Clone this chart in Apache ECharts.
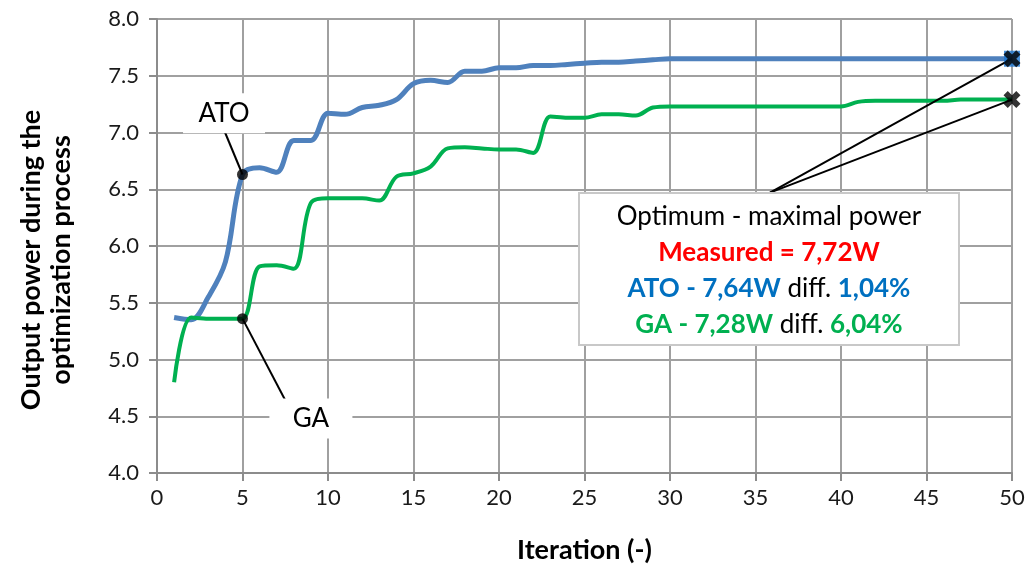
<!DOCTYPE html>
<html>
<head>
<meta charset="utf-8">
<script src="https://cdn.jsdelivr.net/npm/echarts@6/dist/echarts.min.js"></script>
<style>
html,body{margin:0;padding:0;background:#fff;}
#chart{width:1031px;height:570px;}
</style>
</head>
<body>
<div id="chart"></div>
<script>
// ---- data ----
const iterations = [1,2,3,4,5,6,7,8,9,10,11,12,13,14,15,16,17,18,19,20,21,22,23,24,25,26,27,28,29,30,31,32,33,34,35,36,37,38,39,40,41,42,43,44,45,46,47,48,49,50];
const atoPower = [5.37,5.35,5.55,5.86,6.63,6.69,6.65,6.93,6.93,7.17,7.16,7.22,7.24,7.29,7.43,7.46,7.44,7.54,7.54,7.57,7.57,7.59,7.59,7.60,7.61,7.62,7.62,7.63,7.64,7.65,7.65,7.65,7.65,7.65,7.65,7.65,7.65,7.65,7.65,7.65,7.65,7.65,7.65,7.65,7.65,7.65,7.65,7.65,7.65,7.65];
const gaPower = [4.80,5.37,5.36,5.36,5.36,5.82,5.83,5.80,6.38,6.42,6.42,6.42,6.40,6.61,6.64,6.70,6.86,6.87,6.86,6.85,6.85,6.82,7.14,7.13,7.13,7.16,7.16,7.15,7.22,7.23,7.23,7.23,7.23,7.23,7.23,7.23,7.23,7.23,7.23,7.23,7.27,7.28,7.28,7.28,7.28,7.28,7.29,7.29,7.29,7.29];
const xTicks = [0,5,10,15,20,25,30,35,40,45,50];
const yTicks = [4.0,4.5,5.0,5.5,6.0,6.5,7.0,7.5,8.0];
const annoTitle = 'Optimum - maximal power';
const measuredText = 'Measured = 7,72W';
const atoText = 'ATO - 7,64W';
const atoDiff = '1,04%';
const gaText = 'GA - 7,28W';
const gaDiff = '6,04%';

const FONT = 'Lato, "Open Sans", sans-serif';
const BLUE = '#4f81bd', GREEN = '#00b050';
const last = iterations.length - 1;
const hi = 4; // iteration 5 highlighted

const chart = echarts.init(document.getElementById('chart'), null, {renderer:'canvas'});

const xPath = 'path://M0,2.5 L2.5,0 L5,2.5 L7.5,0 L10,2.5 L7.5,5 L10,7.5 L7.5,10 L5,7.5 L2.5,10 L0,7.5 L2.5,5 Z';
const AF = 26; // annotation font size

const option = {
  animation: false,
  backgroundColor: '#fff',
  textStyle: {fontFamily: FONT},
  grid: {left: 157, right: 19, top: 19, bottom: 97, containLabel: false},
  xAxis: {
    type: 'value', min: xTicks[0], max: xTicks[xTicks.length-1], interval: 5,
    name: 'Iteration (-)', nameLocation: 'middle', nameGap: 64,
    nameTextStyle: {fontFamily: FONT, fontSize: 27, fontWeight: 'bold', color: '#000'},
    axisLine: {show: true, onZero: false, lineStyle: {color: '#8c8c8c', width: 2}},
    axisTick: {show: true, length: 8, lineStyle: {color: '#8c8c8c', width: 2}},
    axisLabel: {fontFamily: FONT, fontSize: 22, color: '#1a1a1a', margin: 14},
    splitLine: {show: true, lineStyle: {color: '#a0a0a0', width: 2}}
  },
  yAxis: {
    type: 'value', min: yTicks[0], max: yTicks[yTicks.length-1], interval: 0.5,
    axisLine: {show: true, lineStyle: {color: '#8c8c8c', width: 2}},
    axisTick: {show: true, length: 8, lineStyle: {color: '#8c8c8c', width: 2}},
    axisLabel: {fontFamily: FONT, fontSize: 22, color: '#1a1a1a', margin: 18,
      formatter: v => v.toFixed(1)},
    splitLine: {show: true, lineStyle: {color: '#a0a0a0', width: 2}}
  },
  graphic: [
    {type: 'text', x: 46, y: 260, rotation: Math.PI/2,
      style: {text: 'Output power during the\noptimization process', fill: '#000',
        font: 'bold 27px ' + FONT, align: 'center', verticalAlign: 'middle', lineHeight: 30}},
    {type: 'rect', shape: {x: 579, y: 193, width: 380, height: 152}, z: 100,
      style: {fill: '#fff', stroke: '#c8c8c8', lineWidth: 2}},
    {type: 'text', x: 769, y: 271, z: 101,
      style: {
        text: '{t|' + annoTitle + '}\n{r|' + measuredText + '}\n{b|' + atoText + '}{k| diff. }{b|' + atoDiff + '}\n{g|' + gaText + '}{k| diff. }{g|' + gaDiff + '}',
        align: 'center', verticalAlign: 'middle', lineHeight: 36,
        rich: {
          t: {fontFamily: FONT, fontSize: AF, fill: '#000', lineHeight: 36},
          r: {fontFamily: FONT, fontSize: AF, fontWeight: 'bold', fill: '#ff0000', lineHeight: 36},
          b: {fontFamily: FONT, fontSize: AF, fontWeight: 'bold', fill: '#0070c0', lineHeight: 36},
          g: {fontFamily: FONT, fontSize: AF, fontWeight: 'bold', fill: '#00b050', lineHeight: 36},
          k: {fontFamily: FONT, fontSize: AF, fill: '#000', lineHeight: 36}
        }
      }}
  ],
  series: [
    {
      name: 'ATO', type: 'line', smooth: 0.35, symbol: 'none', z: 3,
      lineStyle: {color: BLUE, width: 5},
      data: iterations.map((x, i) => [x, atoPower[i]])
    },
    {
      name: 'GA', type: 'line', smooth: 0.35, symbol: 'none', z: 3,
      lineStyle: {color: GREEN, width: 4},
      data: iterations.map((x, i) => [x, gaPower[i]])
    },
    {
      name: 'callouts', type: 'scatter', symbol: 'circle', symbolSize: 11, z: 6,
      itemStyle: {color: '#000'},
      data: [[iterations[hi], atoPower[hi]], [iterations[hi], gaPower[hi]]],
      markLine: {
        silent: true, symbol: ['none', 'none'], animation: false,
        label: {show: false},
        lineStyle: {color: '#000', width: 2, type: 'solid'},
        data: [
          [{coord: [iterations[hi], atoPower[hi]]}, {coord: [3.98, 7.0]}],
          [{coord: [iterations[hi], gaPower[hi]]}, {coord: [7.54, 4.63]}],
          [{coord: [iterations[last], atoPower[last]]}, {coord: [35.85, 6.47]}],
          [{coord: [iterations[last], gaPower[last]]}, {coord: [35.85, 6.47]}]
        ]
      },
      markPoint: {
        silent: true, animation: false,
        data: [
          {coord: [3.92, 7.17], symbol: 'rect', symbolSize: [82, 40], itemStyle: {color: '#fff'},
            label: {show: true, position: 'inside', formatter: 'ATO', color: '#000', fontFamily: FONT, fontSize: 26}},
          {coord: [9.0, 4.48], symbol: 'rect', symbolSize: [83, 40], itemStyle: {color: '#fff'},
            label: {show: true, position: 'inside', formatter: 'GA', color: '#000', fontFamily: FONT, fontSize: 26}}
        ]
      }
    },
    {
      name: 'atoEnd', type: 'scatter', symbol: 'rect', symbolSize: 16, z: 7,
      itemStyle: {color: '#1a75d2'},
      data: [[iterations[last], atoPower[last]]]
    },
    {
      name: 'ends', type: 'scatter', symbol: xPath, symbolSize: 17, z: 8,
      itemStyle: {color: '#000'},
      data: [[iterations[last], atoPower[last]], [iterations[last], gaPower[last]]]
    }
  ]
};
chart.setOption(option);
</script>
</body>
</html>
